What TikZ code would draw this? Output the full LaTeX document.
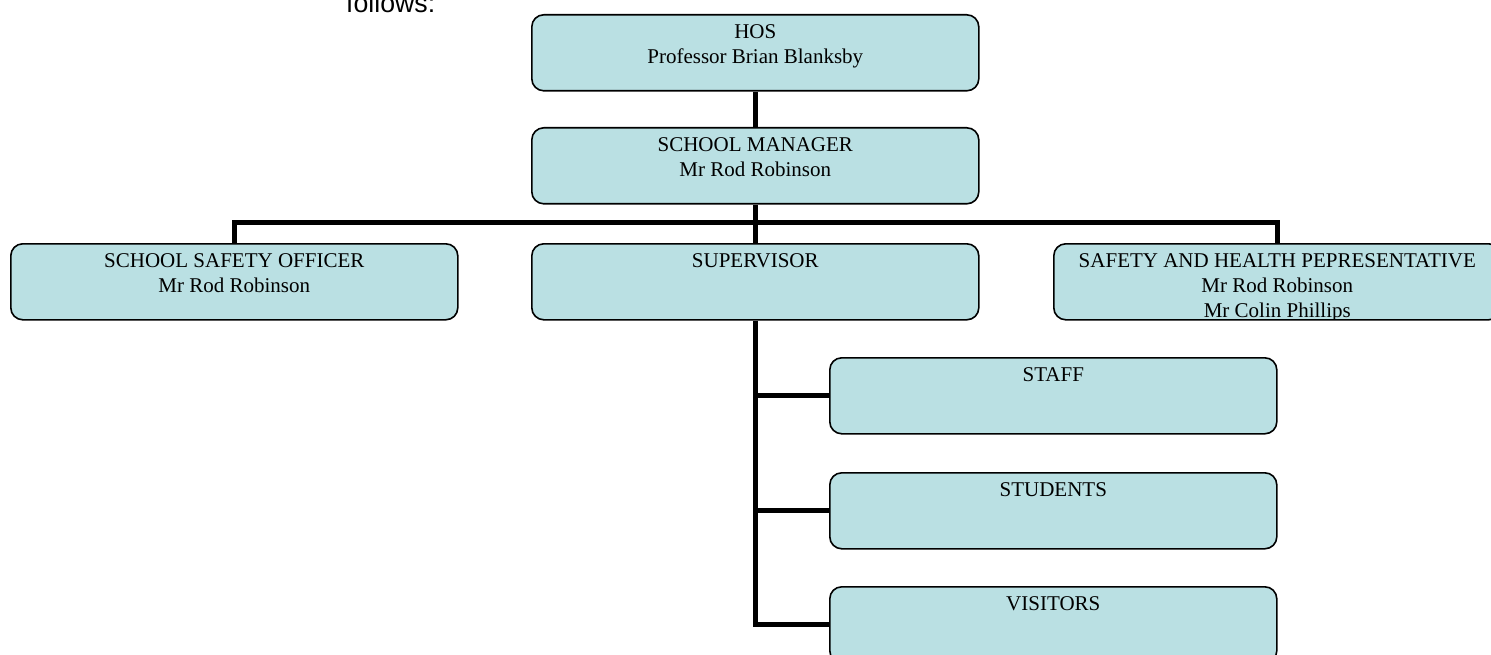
\documentclass[tikz,border=0pt]{standalone}
\usepackage{fontspec}
\setmainfont{Liberation Serif}
\newfontfamily\sansf{Liberation Sans}
\definecolor{boxfill}{RGB}{186,224,227}
\begin{document}
\begin{tikzpicture}[x=1pt,y=-1pt,
  box/.style={draw=black, line width=1.6pt, fill=boxfill, rounded corners=12pt,
    minimum width=447pt, minimum height=76pt, inner sep=0pt, anchor=north west},
  lbl/.style={font=\fontsize{21}{25}\selectfont, align=center, anchor=north, inner sep=0pt},
  conn/.style={line width=5pt, line join=miter}]
\clip (0,0) rectangle (1491,655);
\fill[white] (0,0) rectangle (1491,655);
\node[font=\sansf\fontsize{26.7}{30}\selectfont, anchor=base west, inner sep=0pt] (fol) at (346,12.5) {follows:};
% boxes
\node[box] (hos) at (531,14) {};
\node[box] (mgr) at (531,127) {};
\node[box] (sso) at (10,243) {};
\node[box] (sup) at (531,243) {};
\node[box] (shr) at (1053,243) {};
\node[box] (staff) at (829,357) {};
\node[box] (stud) at (829,472) {};
\node[box] (vis) at (829,586) {};
% connectors
\begin{scope}[on background layer/.try]
\end{scope}
\draw[conn] (hos.south) -- (mgr.north);
\draw[conn] (mgr.south) -- ++(0,20);
\draw[conn] (sso.north) -- ++(0,-20) -| (shr.north);
\draw[conn] (sup.north) -- ++(0,-20);
\draw[conn] (sup.south) |- (vis.west);
\draw[conn] (sup.south |- staff.west) -- (staff.west);
\draw[conn] (sup.south |- stud.west) -- (stud.west);
% labels
\node[lbl] (hosT) at ([yshift=-10pt]hos.north) {HOS\\Professor Brian Blanksby};
\node[lbl] (mgrT) at ([yshift=-10pt]mgr.north) {SCHOOL MANAGER\\Mr Rod Robinson};
\node[lbl] (ssoT) at ([yshift=-10pt]sso.north) {SCHOOL SAFETY OFFICER\\Mr Rod Robinson};
\node[lbl] (supT) at ([yshift=-10pt]sup.north) {SUPERVISOR};
\begin{scope}
\clip (1053,243) rectangle (1500,319);
\node[lbl] (shrT) at ([yshift=-10pt]shr.north) {SAFETY AND HEALTH PEPRESENTATIVE\\Mr Rod Robinson\\Mr Colin Phillips};
\end{scope}
\node[lbl] (staffT) at ([yshift=-10pt]staff.north) {STAFF};
\node[lbl] (studT) at ([yshift=-10pt]stud.north) {STUDENTS};
\node[lbl] (visT) at ([yshift=-10pt]vis.north) {VISITORS};
\end{tikzpicture}
\end{document}
